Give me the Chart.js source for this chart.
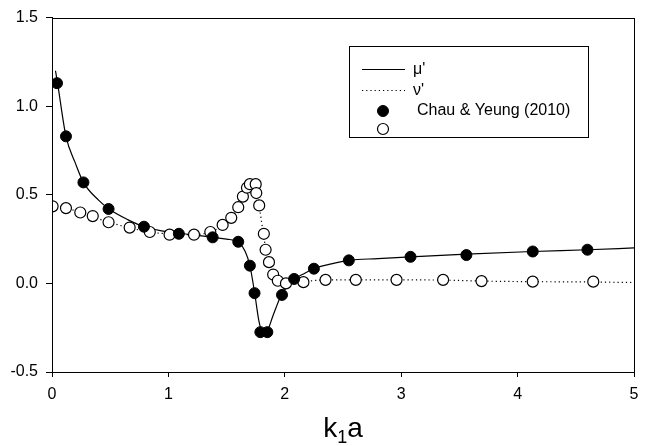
<!DOCTYPE html>
<html>
<head>
<meta charset="utf-8">
<script src="https://cdn.jsdelivr.net/npm/chart.js@4/dist/chart.umd.min.js"></script>
<style>
html,body{margin:0;padding:0;background:#fff;}
canvas{display:block;}
</style>
</head>
<body>
<canvas id="c" width="651" height="446"></canvas>
<script>
// Tick labels
const xTicks = [0, 1, 2, 3, 4, 5];
const yTicks = [-0.5, 0.0, 0.5, 1.0, 1.5];

// Smooth curve mu' (solid)
const muLineX = [0.03,0.05,0.12,0.2,0.27,0.4,0.49,0.65,0.79,1.0,1.2,1.38,1.5,1.6,1.66,1.70,1.74,1.78,1.82,1.85,1.9,1.97,2.03,2.08,2.15,2.25,2.4,2.55,2.8,3.08,3.56,4.13,4.6,5.0];
const muLineY = [1.20,1.12,0.83,0.68,0.57,0.47,0.42,0.36,0.32,0.29,0.275,0.26,0.25,0.232,0.18,0.10,-0.05,-0.22,-0.295,-0.27,-0.18,-0.065,-0.01,0.025,0.05,0.083,0.11,0.13,0.14,0.15,0.165,0.18,0.19,0.20];

// Curve nu' (dotted)
const nuLineX = [0,0.12,0.25,0.49,0.84,1.0,1.2,1.36,1.47,1.54,1.60,1.64,1.68,1.72,1.75,1.77,1.80,1.83,1.86,1.90,1.95,2.0,2.1,2.3,2.6,3.0,3.4,3.7,4.1,4.6,5.0];
const nuLineY = [0.44,0.425,0.40,0.345,0.29,0.28,0.275,0.29,0.33,0.37,0.43,0.49,0.54,0.565,0.55,0.48,0.35,0.22,0.12,0.05,0.015,0.0,0.005,0.018,0.02,0.02,0.018,0.013,0.01,0.008,0.005];

// Chau & Yeung (2010) - filled (mu')
const chauMuX = [0.043,0.12,0.27,0.486,0.79,1.09,1.38,1.60,1.70,1.74,1.79,1.85,1.976,2.08,2.25,2.55,3.08,3.56,4.13,4.60];
const chauMuY = [1.13,0.83,0.57,0.42,0.32,0.28,0.26,0.235,0.10,-0.055,-0.275,-0.275,-0.065,0.025,0.083,0.13,0.15,0.16,0.18,0.19];

// Chau & Yeung (2010) - open (nu')
const chauNuX = [0.005,0.12,0.243,0.35,0.486,0.667,0.84,1.01,1.22,1.36,1.466,1.54,1.60,1.64,1.675,1.70,1.75,1.755,1.78,1.82,1.835,1.864,1.90,1.94,2.01,2.16,2.35,2.61,2.96,3.36,3.69,4.13,4.65];
const chauNuY = [0.435,0.425,0.40,0.38,0.345,0.315,0.29,0.275,0.275,0.29,0.33,0.37,0.43,0.49,0.54,0.56,0.56,0.51,0.44,0.28,0.19,0.12,0.05,0.015,0.0,0.007,0.02,0.02,0.02,0.02,0.013,0.01,0.01];

const legendLabels = ["\u03bc'", "\u03bd'", "Chau & Yeung (2010)", ""];
const xTitle = ["k", "1", "a"];

const pts = (xs, ys) => xs.map((x, i) => ({x: x, y: ys[i]}));
const FONT = "Arial, 'Liberation Sans', sans-serif";

const frameAndLegend = {
  id: 'frameAndLegend',
  afterDraw(chart) {
    const ctx = chart.ctx;
    const a = chart.chartArea;
    ctx.save();
    ctx.strokeStyle = '#000';
    ctx.lineWidth = 1;
    ctx.strokeRect(Math.round(a.left) + 0.5, Math.round(a.top) + 0.5, Math.round(a.right - a.left), Math.round(a.bottom - a.top));

    // Legend box
    const lx = 349, ly = 46, lw = 239, lh = 91;
    ctx.strokeRect(lx + 0.5, ly + 0.5, lw, lh);
    const ds = chart.data.datasets;
    const rows = [69, 90, 111, 129];
    ctx.fillStyle = '#000';
    ctx.textBaseline = 'middle';
    ctx.lineWidth = ds[0].borderWidth;
    ctx.setLineDash([]);
    ctx.beginPath(); ctx.moveTo(362, rows[0] + 0.5); ctx.lineTo(405, rows[0] + 0.5); ctx.stroke();
    ctx.lineWidth = ds[1].borderWidth;
    ctx.setLineDash(ds[1].borderDash);
    ctx.beginPath(); ctx.moveTo(362, rows[1] + 0.5); ctx.lineTo(405, rows[1] + 0.5); ctx.stroke();
    ctx.setLineDash([]);
    ctx.beginPath(); ctx.arc(383, rows[2], ds[2].pointRadius, 0, Math.PI * 2);
    ctx.fillStyle = ds[2].pointBackgroundColor; ctx.fill();
    ctx.lineWidth = ds[2].pointBorderWidth; ctx.strokeStyle = ds[2].pointBorderColor; ctx.stroke();
    ctx.beginPath(); ctx.arc(383, rows[3], ds[3].pointRadius, 0, Math.PI * 2);
    ctx.fillStyle = ds[3].pointBackgroundColor; ctx.fill();
    ctx.lineWidth = ds[3].pointBorderWidth; ctx.strokeStyle = ds[3].pointBorderColor; ctx.stroke();

    ctx.fillStyle = '#000';
    ctx.textAlign = 'left';
    ctx.font = "16px " + FONT;
    ctx.fillText(legendLabels[0], 413, rows[0] + 1);
    ctx.fillText(legendLabels[1], 413, rows[1] + 1);
    ctx.font = "16px " + FONT;
    ctx.fillText(legendLabels[2], 417, rows[2]);
    ctx.fillText(legendLabels[3], 417, rows[3]);

    // x-axis title with subscript
    ctx.textBaseline = 'alphabetic';
    const big = "28px " + FONT, small = "18px " + FONT;
    ctx.font = big; const wk = ctx.measureText(xTitle[0]).width; const wa = ctx.measureText(xTitle[2]).width;
    ctx.font = small; const w1 = ctx.measureText(xTitle[1]).width;
    const total = wk + w1 + wa;
    let x0 = (a.left + a.right) / 2 - total / 2;
    const base = 437;
    ctx.font = big; ctx.fillText(xTitle[0], x0, base);
    ctx.font = small; ctx.fillText(xTitle[1], x0 + wk, base + 6);
    ctx.font = big; ctx.fillText(xTitle[2], x0 + wk + w1, base);
    ctx.restore();
  }
};

new Chart(document.getElementById('c'), {
  type: 'scatter',
  data: {
    datasets: [
      {label: legendLabels[0], data: pts(muLineX, muLineY), showLine: true, borderColor: '#000', borderWidth: 1.2, pointRadius: 0, cubicInterpolationMode: 'monotone', fill: false, order: 3},
      {label: legendLabels[1], data: pts(nuLineX, nuLineY), showLine: true, borderColor: '#000', borderWidth: 1.2, borderDash: [1.2, 3], pointRadius: 0, cubicInterpolationMode: 'monotone', fill: false, order: 3},
      {label: legendLabels[2], data: pts(chauMuX, chauMuY), showLine: false, pointRadius: 5.5, pointBackgroundColor: '#000', pointBorderColor: '#000', pointBorderWidth: 1, order: 1},
      {label: 'open', data: pts(chauNuX, chauNuY), showLine: false, pointRadius: 5.5, pointBackgroundColor: '#fff', pointBorderColor: '#000', pointBorderWidth: 1.2, order: 2}
    ]
  },
  options: {
    responsive: false,
    animation: false,
    devicePixelRatio: 1,
    layout: {padding: {left: 0, right: 17, top: 13, bottom: 0}},
    plugins: {legend: {display: false}, tooltip: {enabled: false}, title: {display: false}},
    scales: {
      x: {
        type: 'linear', min: 0, max: 5,
        afterBuildTicks: (s) => { s.ticks = xTicks.map(v => ({value: v})); },
        afterFit: (s) => { s.height = 74; },
        ticks: {color: '#000', font: {size: 16, family: FONT}, padding: 8, maxRotation: 0, callback: (v) => String(v)},
        grid: {display: true, drawOnChartArea: false, drawTicks: true, tickLength: 5, color: '#000'},
        border: {display: true, color: '#000', width: 1}
      },
      y: {
        type: 'linear', min: -0.5, max: 1.5,
        afterBuildTicks: (s) => { s.ticks = yTicks.map(v => ({value: v})); },
        afterFit: (s) => { s.width = 52; },
        ticks: {color: '#000', font: {size: 16, family: FONT}, padding: 8, callback: (v) => Number(v).toFixed(1)},
        grid: {display: true, drawOnChartArea: false, drawTicks: true, tickLength: 6, color: '#000'},
        border: {display: true, color: '#000', width: 1}
      }
    }
  },
  plugins: [frameAndLegend]
});
</script>
</body>
</html>
